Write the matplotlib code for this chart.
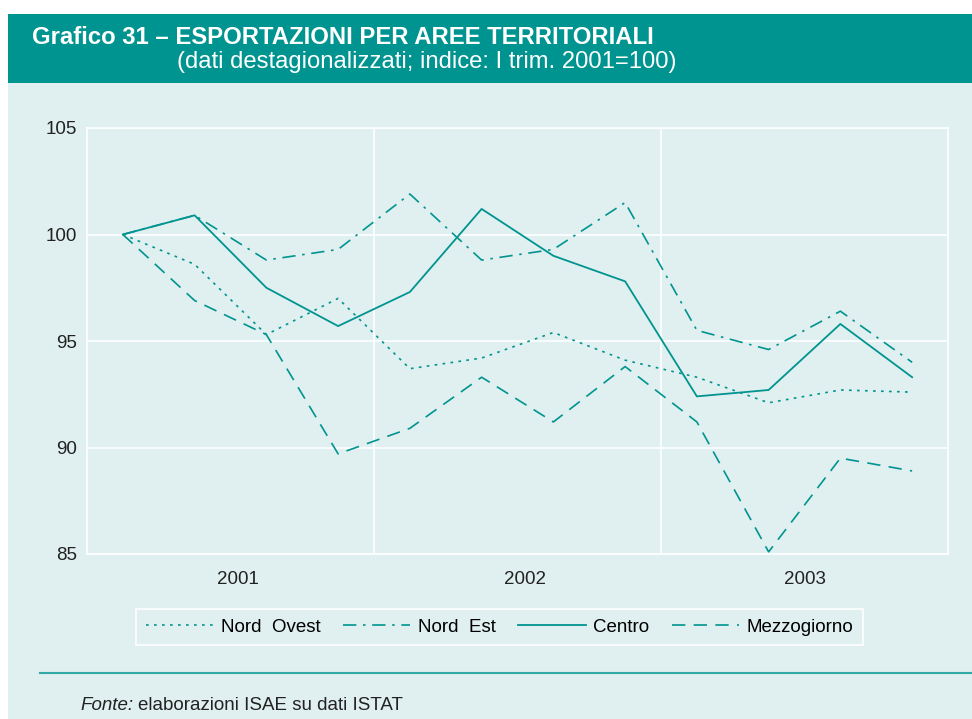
import matplotlib.pyplot as plt
from matplotlib.patches import Rectangle
from matplotlib.lines import Line2D

plt.rcParams['font.family'] = ['Liberation Sans', 'DejaVu Sans']

anni = ['2001', '2002', '2003']
nord_ovest = [100, 98.6, 95.3, 97.0, 93.7, 94.2, 95.4, 94.1, 93.3, 92.1, 92.7, 92.6]
nord_est = [100, 100.9, 98.8, 99.3, 101.9, 98.8, 99.3, 101.5, 95.5, 94.6, 96.4, 94.0]
centro = [100, 100.9, 97.5, 95.7, 97.3, 101.2, 99.0, 97.8, 92.4, 92.7, 95.8, 93.3]
mezzogiorno = [100, 96.9, 95.3, 89.7, 90.9, 93.3, 91.2, 93.8, 91.2, 85.1, 89.5, 88.9]
y_ticks = [85, 90, 95, 100, 105]

bg = '#e0efef'
teal = '#009490'
txt = '#222222'

fig = plt.figure(figsize=(9.72, 7.19), dpi=100)
fig.patch.set_facecolor('white')

# sfondo e fascia del titolo
fig.patches.append(Rectangle((8 / 972, 0), 1, 1 - 83 / 719, transform=fig.transFigure,
                             facecolor=bg, edgecolor='none', zorder=-10))
fig.patches.append(Rectangle((8 / 972, 1 - 83 / 719), 1, 69 / 719, transform=fig.transFigure,
                             facecolor=teal, edgecolor='none', zorder=-10))
fig.text(32 / 972, 1 - 37 / 719, 'Grafico 31 – ESPORTAZIONI PER AREE TERRITORIALI',
         color='white', fontsize=17.2, fontweight='bold', va='center', ha='left')
fig.text(177 / 972, 1 - 62 / 719, '(dati destagionalizzati; indice: I trim. 2001=100)',
         color='white', fontsize=17.2, va='center', ha='left')

ax = fig.add_axes([87 / 972, 1 - 554 / 719, 861 / 972, 426 / 719])
ax.set_facecolor(bg)

x = [i + 0.5 for i in range(len(centro))]
ax.plot(x, nord_ovest, color=teal, lw=1.2, dashes=(1.6, 3.2), label='Nord  Ovest')
ax.plot(x, nord_est, color=teal, lw=1.2, dashes=(8, 4, 1.5, 4), label='Nord  Est')
ax.plot(x, centro, color=teal, lw=1.3, label='Centro')
ax.plot(x, mezzogiorno, color=teal, lw=1.2, dashes=(8, 5), label='Mezzogiorno')

ax.set_xlim(0, 12)
ax.set_ylim(85, 105)
ax.set_yticks(y_ticks)
ax.set_yticklabels([str(v) for v in y_ticks], fontsize=13.5, color=txt)
ax.set_xticks([2.1, 6.1, 10.0])
ax.set_xticklabels(anni, fontsize=13.5, color=txt)
ax.tick_params(axis='y', length=0, pad=7)
ax.tick_params(axis='x', length=0, pad=12)
for v in y_ticks:
    ax.axhline(v, color='white', lw=1.2, zorder=0)
for v in [4, 8]:
    ax.axvline(v, color='white', lw=1.2, zorder=0)
for s in ax.spines.values():
    s.set_color('white')
    s.set_linewidth(1.2)

leg = fig.legend(loc='center', bbox_to_anchor=(499.5 / 972, 1 - 627 / 719), ncol=4,
                 frameon=True, fontsize=13.5, handlelength=3.6, columnspacing=1.2,
                 handletextpad=0.4, borderpad=0.5)
leg.get_frame().set_facecolor(bg)
leg.get_frame().set_edgecolor('white')
leg.get_frame().set_linewidth(1.5)
leg.get_frame().set_boxstyle('square', pad=0)

fig.add_artist(Line2D([40 / 972, 1], [1 - 673 / 719] * 2, transform=fig.transFigure,
                      color='#33a9a5', lw=1.5))
fig.text(80 / 972, 1 - 706 / 719, 'Fonte:', style='italic', fontsize=13.5, va='center',
         color=txt)
fig.text(138 / 972, 1 - 706 / 719, 'elaborazioni ISAE su dati ISTAT', fontsize=13.5,
         va='center', color=txt)

fig.savefig('out.png', dpi=100, facecolor=fig.get_facecolor())
